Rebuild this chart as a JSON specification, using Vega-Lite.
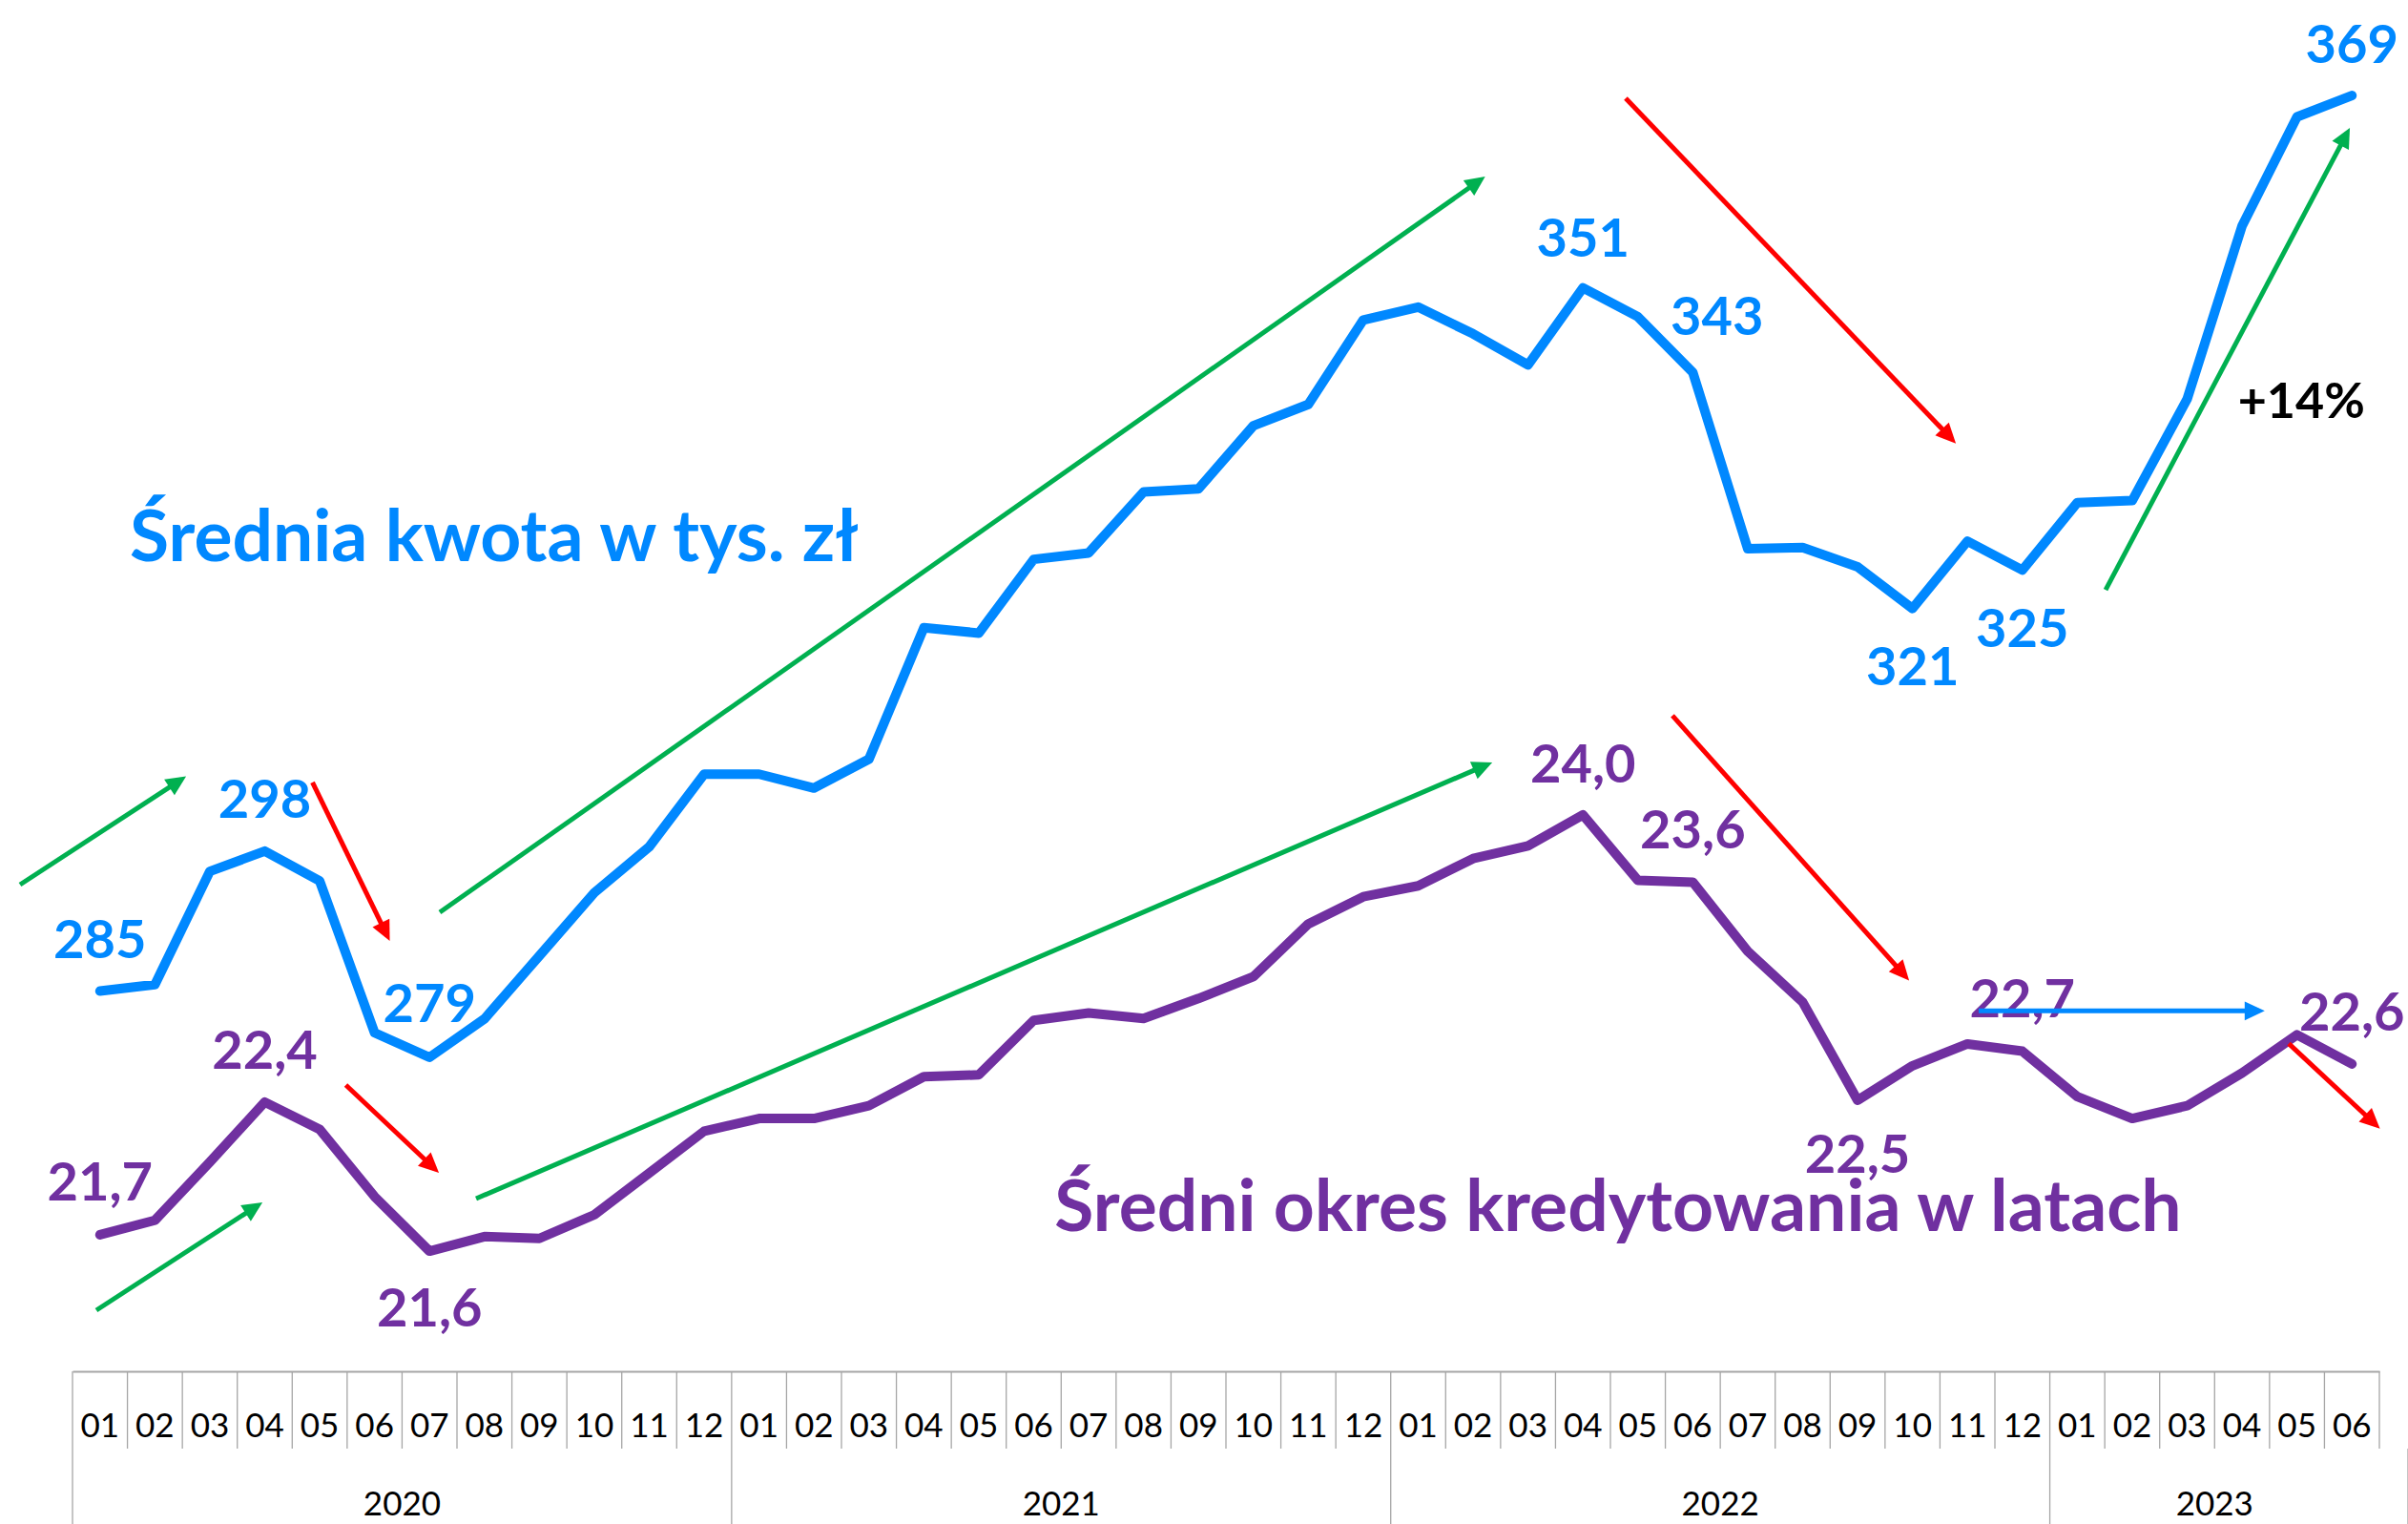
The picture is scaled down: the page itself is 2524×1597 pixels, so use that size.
{
  "$schema": "https://vega.github.io/schema/vega-lite/v6.json",
  "padding": 0,
  "background": "white",
  "spacing": 0,
  "bounds": "flush",
  "config": {"view": {"stroke": null}, "font": "Lato", "axisY": {"disable": true}},
  "datasets": {
    "dane": [
      {"nr":1,"miesiac":"2020-01","rok":"2020","mies":"01","kwota":285.2,"lata":21.69},
      {"nr":2,"miesiac":"2020-02","rok":"2020","mies":"02","kwota":285.8,"lata":21.77},
      {"nr":3,"miesiac":"2020-03","rok":"2020","mies":"03","kwota":296.4,"lata":22.09},
      {"nr":4,"miesiac":"2020-04","rok":"2020","mies":"04","kwota":298.3,"lata":22.42},
      {"nr":5,"miesiac":"2020-05","rok":"2020","mies":"05","kwota":295.5,"lata":22.27},
      {"nr":6,"miesiac":"2020-06","rok":"2020","mies":"06","kwota":281.3,"lata":21.90},
      {"nr":7,"miesiac":"2020-07","rok":"2020","mies":"07","kwota":279.0,"lata":21.60},
      {"nr":8,"miesiac":"2020-08","rok":"2020","mies":"08","kwota":282.6,"lata":21.68},
      {"nr":9,"miesiac":"2020-09","rok":"2020","mies":"09","kwota":288.5,"lata":21.67},
      {"nr":10,"miesiac":"2020-10","rok":"2020","mies":"10","kwota":294.4,"lata":21.80},
      {"nr":11,"miesiac":"2020-11","rok":"2020","mies":"11","kwota":298.7,"lata":22.03},
      {"nr":12,"miesiac":"2020-12","rok":"2020","mies":"12","kwota":305.5,"lata":22.26},
      {"nr":13,"miesiac":"2021-01","rok":"2021","mies":"01","kwota":305.5,"lata":22.33},
      {"nr":14,"miesiac":"2021-02","rok":"2021","mies":"02","kwota":304.2,"lata":22.33},
      {"nr":15,"miesiac":"2021-03","rok":"2021","mies":"03","kwota":306.9,"lata":22.40},
      {"nr":16,"miesiac":"2021-04","rok":"2021","mies":"04","kwota":319.2,"lata":22.56},
      {"nr":17,"miesiac":"2021-05","rok":"2021","mies":"05","kwota":318.7,"lata":22.57},
      {"nr":18,"miesiac":"2021-06","rok":"2021","mies":"06","kwota":325.6,"lata":22.87},
      {"nr":19,"miesiac":"2021-07","rok":"2021","mies":"07","kwota":326.2,"lata":22.91},
      {"nr":20,"miesiac":"2021-08","rok":"2021","mies":"08","kwota":331.9,"lata":22.88},
      {"nr":21,"miesiac":"2021-09","rok":"2021","mies":"09","kwota":332.2,"lata":22.99},
      {"nr":22,"miesiac":"2021-10","rok":"2021","mies":"10","kwota":338.1,"lata":23.11},
      {"nr":23,"miesiac":"2021-11","rok":"2021","mies":"11","kwota":340.1,"lata":23.40},
      {"nr":24,"miesiac":"2021-12","rok":"2021","mies":"12","kwota":348.0,"lata":23.55},
      {"nr":25,"miesiac":"2022-01","rok":"2022","mies":"01","kwota":349.2,"lata":23.61},
      {"nr":26,"miesiac":"2022-02","rok":"2022","mies":"02","kwota":346.7,"lata":23.76},
      {"nr":27,"miesiac":"2022-03","rok":"2022","mies":"03","kwota":343.8,"lata":23.83},
      {"nr":28,"miesiac":"2022-04","rok":"2022","mies":"04","kwota":351.0,"lata":24.00},
      {"nr":29,"miesiac":"2022-05","rok":"2022","mies":"05","kwota":348.3,"lata":23.64},
      {"nr":30,"miesiac":"2022-06","rok":"2022","mies":"06","kwota":343.1,"lata":23.63},
      {"nr":31,"miesiac":"2022-07","rok":"2022","mies":"07","kwota":326.6,"lata":23.25},
      {"nr":32,"miesiac":"2022-08","rok":"2022","mies":"08","kwota":326.7,"lata":22.97},
      {"nr":33,"miesiac":"2022-09","rok":"2022","mies":"09","kwota":324.9,"lata":22.43},
      {"nr":34,"miesiac":"2022-10","rok":"2022","mies":"10","kwota":321.0,"lata":22.62},
      {"nr":35,"miesiac":"2022-11","rok":"2022","mies":"11","kwota":327.3,"lata":22.74},
      {"nr":36,"miesiac":"2022-12","rok":"2022","mies":"12","kwota":324.6,"lata":22.70},
      {"nr":37,"miesiac":"2023-01","rok":"2023","mies":"01","kwota":330.9,"lata":22.45},
      {"nr":38,"miesiac":"2023-02","rok":"2023","mies":"02","kwota":331.1,"lata":22.33},
      {"nr":39,"miesiac":"2023-03","rok":"2023","mies":"03","kwota":340.6,"lata":22.40},
      {"nr":40,"miesiac":"2023-04","rok":"2023","mies":"04","kwota":356.8,"lata":22.58},
      {"nr":41,"miesiac":"2023-05","rok":"2023","mies":"05","kwota":367.0,"lata":22.79},
      {"nr":42,"miesiac":"2023-06","rok":"2023","mies":"06","kwota":369.0,"lata":22.63}
    ],
    "etykiety": [
      {"seria":"kwota","rodzaj":"wartosc","tekst":"285","x":1,"y":290.07},
      {"seria":"kwota","rodzaj":"wartosc","tekst":"298","x":4,"y":303.2},
      {"seria":"kwota","rodzaj":"wartosc","tekst":"279","x":7,"y":284.09},
      {"seria":"kwota","rodzaj":"wartosc","tekst":"351","x":28,"y":355.7},
      {"seria":"kwota","rodzaj":"wartosc","tekst":"343","x":30.44,"y":348.35},
      {"seria":"kwota","rodzaj":"wartosc","tekst":"321","x":34,"y":315.65},
      {"seria":"kwota","rodzaj":"wartosc","tekst":"325","x":36,"y":319.15},
      {"seria":"kwota","rodzaj":"wartosc","tekst":"369","x":42,"y":373.8},
      {"seria":"kwota","rodzaj":"zmiana","tekst":"+14%","x":41.08,"y":340.52},
      {"seria":"kwota","rodzaj":"tytul","tekst":"Średnia kwota w tys. zł","x":8.178,"y":325.41},
      {"seria":"lata","rodzaj":"wartosc","tekst":"21,7","x":1,"y":21.984},
      {"seria":"lata","rodzaj":"wartosc","tekst":"22,4","x":4,"y":22.709},
      {"seria":"lata","rodzaj":"wartosc","tekst":"21,6","x":7,"y":21.292},
      {"seria":"lata","rodzaj":"wartosc","tekst":"24,0","x":28,"y":24.283},
      {"seria":"lata","rodzaj":"wartosc","tekst":"23,6","x":30,"y":23.921},
      {"seria":"lata","rodzaj":"wartosc","tekst":"22,5","x":33,"y":22.136},
      {"seria":"lata","rodzaj":"wartosc","tekst":"22,7","x":36,"y":22.992},
      {"seria":"lata","rodzaj":"wartosc","tekst":"22,6","x":42,"y":22.918},
      {"seria":"lata","rodzaj":"tytul","tekst":"Średni okres kredytowania w latach","x":28.639,"y":21.711}
    ],
    "strzalki": [
      {"seria":"kwota","kierunek":"wzrost","x1":-0.455,"y1":295.16,"x2":2.48,"y2":305.0,"kat":56.9},
      {"seria":"kwota","kierunek":"wzrost","x1":7.187,"y1":292.57,"x2":26.133,"y2":361.11,"kat":54.86},
      {"seria":"kwota","kierunek":"wzrost","x1":37.516,"y1":322.75,"x2":41.913,"y2":365.5,"kat":27.88},
      {"seria":"kwota","kierunek":"spadek","x1":4.869,"y1":304.72,"x2":6.23,"y2":290.38,"kat":153.99},
      {"seria":"kwota","kierunek":"spadek","x1":28.778,"y1":368.74,"x2":34.717,"y2":336.84,"kat":136.26},
      {"seria":"lata","kierunek":"wzrost","x1":0.934,"y1":21.275,"x2":3.87,"y2":21.851,"kat":57.0},
      {"seria":"lata","kierunek":"wzrost","x1":7.848,"y1":21.889,"x2":26.251,"y2":24.276,"kat":66.78},
      {"seria":"lata","kierunek":"spadek","x1":5.476,"y1":22.514,"x2":7.094,"y2":22.053,"kat":133.34},
      {"seria":"lata","kierunek":"spadek","x1":29.629,"y1":24.546,"x2":33.868,"y2":23.113,"kat":138.21},
      {"seria":"lata","kierunek":"spadek","x1":40.85,"y1":22.742,"x2":42.433,"y2":22.296,"kat":133.05},
      {"seria":"lata","kierunek":"stabilnie","x1":35.205,"y1":22.922,"x2":40.307,"y2":22.922,"kat":90}
    ]
  },
  "vconcat": [
    {
      "width": 2524,
      "height": 1437,
      "layer": [
        {
          "layer": [
            {
              "data": {"name": "dane"},
              "mark": {"type": "line", "color": "#0088FF", "strokeWidth": 10, "strokeCap": "round", "strokeJoin": "round"},
              "encoding": {
                "x": {"field": "nr", "type": "quantitative", "title": null,
                      "scale": {"domain": [0.5, 42.5], "range": [76, 2494], "nice": false, "zero": false},
                      "axis": {"labels": false, "ticks": false, "grid": false, "domain": true, "domainColor": "#a6a6a6", "domainWidth": 2, "title": null}},
                "y": {"field": "kwota", "type": "quantitative", "axis": null,
                      "scale": {"domain": [249.62, 377.94], "nice": false, "zero": false}}
              }
            },
            {
              "data": {"name": "etykiety"},
              "transform": [{"filter": "datum.seria == 'kwota' && datum.rodzaj == 'wartosc'"}],
              "mark": {"type": "text", "font": "Lato", "fontWeight": "bold", "fontSize": 56, "color": "#0088FF", "align": "center", "baseline": "middle", "dy": 3},
              "encoding": {
                "x": {"field": "x", "type": "quantitative", "title": null},
                "y": {"field": "y", "type": "quantitative", "axis": null},
                "text": {"field": "tekst"}
              }
            },
            {
              "data": {"name": "etykiety"},
              "transform": [{"filter": "datum.seria == 'kwota' && datum.rodzaj == 'zmiana'"}],
              "mark": {"type": "text", "font": "Lato", "fontWeight": "bold", "fontSize": 52, "color": "black", "align": "center", "baseline": "middle", "dy": 3},
              "encoding": {
                "x": {"field": "x", "type": "quantitative", "title": null},
                "y": {"field": "y", "type": "quantitative", "axis": null},
                "text": {"field": "tekst"}
              }
            },
            {
              "data": {"name": "etykiety"},
              "transform": [{"filter": "datum.seria == 'kwota' && datum.rodzaj == 'tytul'"}],
              "mark": {"type": "text", "font": "Lato", "fontWeight": "bold", "fontSize": 75, "color": "#0088FF", "align": "center", "baseline": "alphabetic"},
              "encoding": {
                "x": {"field": "x", "type": "quantitative", "title": null},
                "y": {"field": "y", "type": "quantitative", "axis": null},
                "text": {"field": "tekst"}
              }
            },
            {
              "data": {"name": "strzalki"},
              "transform": [{"filter": "datum.seria == 'kwota'"}],
              "mark": {"type": "rule", "strokeCap": "butt"},
              "encoding": {
                "x": {"field": "x1", "type": "quantitative", "title": null},
                "x2": {"field": "x2"},
                "y": {"field": "y1", "type": "quantitative", "axis": null},
                "y2": {"field": "y2"},
                "color": {"field": "kierunek", "type": "nominal", "legend": null,
                          "scale": {"domain": ["wzrost", "spadek", "stabilnie"], "range": ["#00B050", "#FF0000", "#0088FF"]}},
                "strokeWidth": {"field": "kierunek", "type": "nominal", "legend": null,
                          "scale": {"domain": ["wzrost", "spadek", "stabilnie"], "range": [5, 5, 6.5]}}
              }
            },
            {
              "data": {"name": "strzalki"},
              "transform": [{"filter": "datum.seria == 'kwota'"}],
              "mark": {"type": "point", "shape": "M0,-0.29L0.47,0.71L-0.47,0.71Z", "filled": true, "opacity": 1, "size": 1764, "strokeWidth": 0},
              "encoding": {
                "x": {"field": "x2", "type": "quantitative", "title": null},
                "y": {"field": "y2", "type": "quantitative", "axis": null},
                "angle": {"field": "kat", "type": "quantitative", "scale": null},
                "color": {"field": "kierunek", "type": "nominal", "legend": null}
              }
            }
          ]
        },
        {
          "layer": [
            {
              "data": {"name": "dane"},
              "mark": {"type": "line", "color": "#7030A0", "strokeWidth": 10, "strokeCap": "round", "strokeJoin": "round"},
              "encoding": {
                "x": {"field": "nr", "type": "quantitative", "title": null},
                "y": {"field": "lata", "type": "quantitative", "axis": null,
                      "scale": {"domain": [20.939, 28.483], "nice": false, "zero": false}}
              }
            },
            {
              "data": {"name": "etykiety"},
              "transform": [{"filter": "datum.seria == 'lata' && datum.rodzaj == 'wartosc'"}],
              "mark": {"type": "text", "font": "Lato", "fontWeight": "bold", "fontSize": 56, "color": "#7030A0", "align": "center", "baseline": "middle", "dy": 3},
              "encoding": {
                "x": {"field": "x", "type": "quantitative", "title": null},
                "y": {"field": "y", "type": "quantitative", "axis": null},
                "text": {"field": "tekst"}
              }
            },
            {
              "data": {"name": "etykiety"},
              "transform": [{"filter": "datum.seria == 'lata' && datum.rodzaj == 'tytul'"}],
              "mark": {"type": "text", "font": "Lato", "fontWeight": "bold", "fontSize": 75, "color": "#7030A0", "align": "center", "baseline": "alphabetic"},
              "encoding": {
                "x": {"field": "x", "type": "quantitative", "title": null},
                "y": {"field": "y", "type": "quantitative", "axis": null},
                "text": {"field": "tekst"}
              }
            },
            {
              "data": {"name": "strzalki"},
              "transform": [{"filter": "datum.seria == 'lata'"}],
              "mark": {"type": "rule", "strokeCap": "butt"},
              "encoding": {
                "x": {"field": "x1", "type": "quantitative", "title": null},
                "x2": {"field": "x2"},
                "y": {"field": "y1", "type": "quantitative", "axis": null},
                "y2": {"field": "y2"},
                "color": {"field": "kierunek", "type": "nominal", "legend": null},
                "strokeWidth": {"field": "kierunek", "type": "nominal", "legend": null,
                          "scale": {"domain": ["wzrost", "spadek", "stabilnie"], "range": [5, 5, 6.5]}}
              }
            },
            {
              "data": {"name": "strzalki"},
              "transform": [{"filter": "datum.seria == 'lata'"}],
              "mark": {"type": "point", "shape": "M0,-0.29L0.47,0.71L-0.47,0.71Z", "filled": true, "opacity": 1, "size": 1764, "strokeWidth": 0},
              "encoding": {
                "x": {"field": "x2", "type": "quantitative", "title": null},
                "y": {"field": "y2", "type": "quantitative", "axis": null},
                "angle": {"field": "kat", "type": "quantitative", "scale": null},
                "color": {"field": "kierunek", "type": "nominal", "legend": null}
              }
            }
          ]
        }
      ],
      "resolve": {"scale": {"y": "independent"}}
    },
    {
      "width": 2524,
      "height": 81,
      "data": {"name": "dane"},
      "layer": [
        {
          "mark": {"type": "rule", "color": "#a6a6a6", "strokeWidth": 1.3},
          "encoding": {
            "x": {"field": "miesiac", "type": "ordinal", "bandPosition": 0, "axis": null,
                  "scale": {"type": "band", "range": [76, 2494], "paddingInner": 0, "paddingOuter": 0}}
          }
        },
        {
          "transform": [{"filter": "datum.nr == 42"}],
          "mark": {"type": "rule", "color": "#a6a6a6", "strokeWidth": 1.3},
          "encoding": {
            "x": {"field": "miesiac", "type": "ordinal", "bandPosition": 1, "axis": null}
          }
        },
        {
          "mark": {"type": "text", "font": "Lato", "fontSize": 35, "color": "black", "align": "center", "baseline": "middle", "dy": 17},
          "encoding": {
            "x": {"field": "miesiac", "type": "ordinal", "bandPosition": 0.5, "axis": null},
            "text": {"field": "mies"}
          }
        }
      ]
    },
    {
      "width": 2524,
      "height": 79,
      "data": {"name": "dane"},
      "layer": [
        {
          "transform": [{"filter": "datum.mies == '01'"}],
          "mark": {"type": "rule", "color": "#a6a6a6", "strokeWidth": 1.3},
          "encoding": {
            "x": {"field": "miesiac", "type": "ordinal", "bandPosition": 0, "axis": null,
                  "scale": {"type": "band", "range": [76, 2494], "paddingInner": 0, "paddingOuter": 0,
                            "domain": ["2020-01","2020-02","2020-03","2020-04","2020-05","2020-06","2020-07","2020-08","2020-09","2020-10","2020-11","2020-12","2021-01","2021-02","2021-03","2021-04","2021-05","2021-06","2021-07","2021-08","2021-09","2021-10","2021-11","2021-12","2022-01","2022-02","2022-03","2022-04","2022-05","2022-06","2022-07","2022-08","2022-09","2022-10","2022-11","2022-12","2023-01","2023-02","2023-03","2023-04","2023-05","2023-06"]}}
          }
        },
        {
          "transform": [{"filter": "datum.nr == 42"}],
          "mark": {"type": "rule", "color": "#a6a6a6", "strokeWidth": 1.3},
          "encoding": {
            "x": {"field": "miesiac", "type": "ordinal", "bandPosition": 1, "axis": null}
          }
        },
        {
          "mark": {"type": "text", "font": "Lato", "fontSize": 35, "color": "black", "align": "center", "baseline": "middle", "dy": 19},
          "encoding": {
            "x": {"aggregate": "mean", "field": "nr", "type": "quantitative", "axis": null,
                  "scale": {"domain": [0.5, 42.5], "range": [76, 2494], "nice": false, "zero": false}},
            "text": {"field": "rok", "type": "nominal"}
          }
        }
      ],
      "resolve": {"scale": {"x": "independent"}}
    }
  ]
}
